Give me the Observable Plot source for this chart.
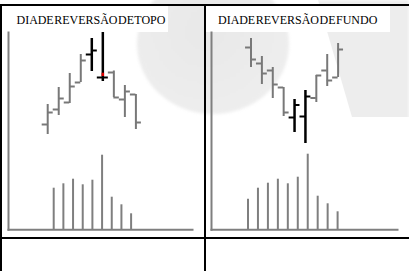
<!DOCTYPE html>
<html>
<head>
<meta charset="utf-8">
<script src="https://cdn.jsdelivr.net/npm/d3@7"></script>
<script src="https://cdn.jsdelivr.net/npm/@observablehq/plot@0.6"></script>
<style>
  html, body { margin: 0; padding: 0; background: #fff; }
  #wrap { position: relative; width: 409px; height: 271px; overflow: hidden; background: #fff; }
  .ln { position: absolute; background: #000; }
  .wm { position: absolute; }
  .band { position: absolute; background: #fff; }
  .title { position: absolute; font-family: "Liberation Serif", "Times New Roman", serif; font-size: 12px;
           line-height: 12px; color: #000; white-space: nowrap; word-spacing: -2.5px; }
  .plotlayer { position: absolute; left: 0; top: 0; }
</style>
</head>
<body>
<div id="wrap">
  <!-- faint background watermark -->
  <div class="wm" style="left:137px;top:-26px;width:152px;height:140px;border-radius:50%;
       background:radial-gradient(ellipse at 45% 40%, #e8e8e8 0%, #ececec 55%, #f0f0f0 100%);filter:blur(1.5px)"></div>
  <div class="wm" style="left:0;top:0;width:409px;height:271px;background:#ededed;filter:blur(1.5px);
       clip-path:polygon(318px 0, 409px 0, 409px 117px, 352px 117px)"></div>
  <div class="band" style="left:2px;top:6px;width:166px;height:26px"></div>
  <div class="band" style="left:206px;top:6px;width:184px;height:26px"></div>
  <div class="ln" style="left:0;top:4px;width:409px;height:2px"></div>
  <div class="ln" style="left:0;top:4px;width:2px;height:267px"></div>
  <div class="ln" style="left:204px;top:4px;width:2px;height:267px"></div>
  <div class="ln" style="left:0;top:237px;width:409px;height:2px"></div>
  <div class="title" id="t1" style="left:16.5px;top:14px"></div>
  <div class="title" id="t2" style="left:218px;top:14px"></div>
</div>
<script>
// ---- data ----
const titles = ["DIA DE REVERSÃO DE TOPO", "DIA DE REVERSÃO DE FUNDO"];
const days = [1, 2, 3, 4, 5, 6, 7, 8, 9];
const strongDays = [5, 6];

// Reversal at top
const topHigh  = [46, 63, 77, 96, 112, 118, 79.5, 65, 56];
const topLow   = [16, 35, 47, 68, 79, 69, 53, 33, 21];
const topOpen  = [26, 41, 48, 68, 96, 73, 78, 51, 56];
const topClose = [38, 52, 64, 90, 100, 73, 53, 59, 28];
const topMark  = [{day: 6, lo: 74, hi: 77.3}];
const topVolDays = [1, 2, 3, 4, 5, 6, 7, 8, 9];
const topVol   = [41.6, 46, 50.6, 45, 49.6, 74.6, 32.6, 25, 16];

// Reversal at bottom
const botHigh  = [112, 94, 83, 63, 51, 60, 75, 96, 107];
const botLow   = [83, 66, 52, 34, 18, 7, 48, 64, 73];
const botOpen  = [103, 87, 80, 63, 33, 34, 52.5, 80, 73];
const botClose = [91, 77, 66, 38, 45.5, 54, 75, 70, 101];
const botVolDays = [1, 2, 3, 4, 5, 6, 7, 8, 9, 10];
const botVol   = [30.6, 41.6, 46.6, 50.6, 46, 52.6, 75.6, 33.6, 26, 18];

document.getElementById("t1").textContent = titles[0];
document.getElementById("t2").textContent = titles[1];

const GRAY = "#787878";
const W = 409, H = 271;

function rowsOf(high, low, open, close) {
  return days.map((d, i) => ({day: d, high: high[i], low: low[i], open: open[i], close: close[i],
    strong: strongDays.includes(d)}));
}

function pricePlot(rows, xRange, marks = []) {
  const tick = 0.5;
  const bars = (filter, stroke, sw) => [
    Plot.ruleX(rows.filter(filter), {x: "day", y1: "low", y2: "high", stroke, strokeWidth: sw}),
    Plot.ruleY(rows.filter(filter), {y: "open", x1: d => d.day - tick, x2: "day", stroke, strokeWidth: 2}),
    Plot.ruleY(rows.filter(filter), {y: "close", x1: "day", x2: d => d.day + tick, stroke, strokeWidth: 2})
  ];
  return Plot.plot({
    width: W, height: H, margin: 0,
    style: "background:transparent;overflow:visible;",
    x: {type: "linear", domain: [1, 9], range: xRange, axis: null},
    y: {type: "linear", domain: [0, 120], range: [150, 30], axis: null},
    marks: [
      ...bars(d => !d.strong, GRAY, 2),
      ...bars(d => d.strong, "#000", 2.5),
      ...marks
    ]
  });
}

function volumePlot(vdays, vols, xRange, left, right) {
  const rows = vdays.map((d, i) => ({day: d, vol: vols[i]}));
  return Plot.plot({
    width: W, height: H,
    marginLeft: left, marginRight: W - right, marginTop: 32, marginBottom: H - 229.3,
    style: "background:transparent;overflow:visible;",
    x: {type: "linear", domain: [vdays[0], vdays[vdays.length - 1]], range: xRange, axis: null},
    y: {type: "linear", domain: [0, 100], range: [229.3, 129.3], axis: null},
    marks: [
      Plot.ruleX(rows, {x: "day", y1: 0, y2: "vol", stroke: "#7f7f7f", strokeWidth: 2}),
      Plot.frame({anchor: "left", stroke: "#7f7f7f", strokeWidth: 2}),
      Plot.frame({anchor: "bottom", stroke: "#7f7f7f", strokeWidth: 2})
    ]
  });
}

const wrap = document.getElementById("wrap");
function add(svg) { svg.classList.add("plotlayer"); wrap.appendChild(svg); }

add(volumePlot(topVolDays, topVol, [53.2, 130.6], 8, 192));
add(volumePlot(botVolDays, botVol, [247.5, 337.1], 211, 397));
add(pricePlot(rowsOf(topHigh, topLow, topOpen, topClose), [47.2, 135.4], [
  Plot.ruleX(topMark, {x: "day", y1: "lo", y2: "hi", stroke: "#e00000", strokeWidth: 2.5})
]));
add(pricePlot(rowsOf(botHigh, botLow, botOpen, botClose), [250.5, 337.6]));
</script>
</body>
</html>
